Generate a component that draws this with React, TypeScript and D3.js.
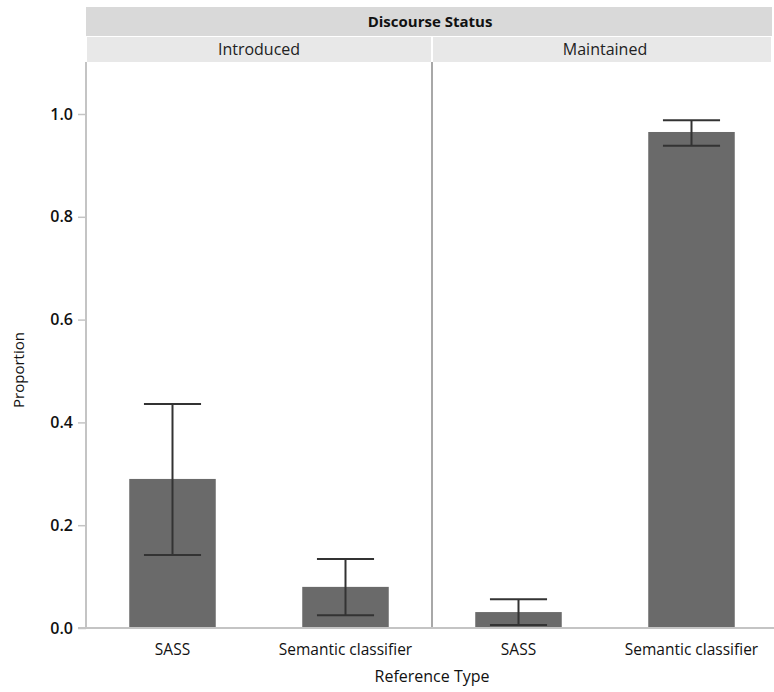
import React, { useEffect, useRef } from 'react';
import * as d3 from 'd3';

const panels = ['Introduced', 'Maintained'];
const categories = ['SASS', 'Semantic classifier'];
// proportion per panel, in category order
const introducedValues = [0.29, 0.08];
const introducedLow = [0.142, 0.025];
const introducedHigh = [0.436, 0.134];
const maintainedValues = [0.031, 0.965];
const maintainedLow = [0.006, 0.938];
const maintainedHigh = [0.056, 0.988];
const yTicks = [0, 0.2, 0.4, 0.6, 0.8, 1.0];

const App = () => {
  const svgRef = useRef<SVGSVGElement>(null);

  useEffect(() => {
    const W = 774;
    const H = 692;
    const margin = { top: 62, right: -4, bottom: 64, left: 86 }; // right panel runs past the edge a little
    const width = W - margin.left - margin.right;
    const font = '"Open Sans", "Noto Sans", sans-serif';

    const svg = d3.select(svgRef.current)
      .attr('width', W)
      .attr('height', H)
      .style('position', 'absolute')
      .style('left', '0px')
      .style('top', '0px')
      .style('font-family', font);
    svg.selectAll('*').remove();

    const panelData = [
      { name: panels[0], values: introducedValues, low: introducedLow, high: introducedHigh },
      { name: panels[1], values: maintainedValues, low: maintainedLow, high: maintainedHigh }
    ];

    const px = d3.scaleBand()
      .domain(panels)
      .range([margin.left, margin.left + width]);

    const y = d3.scaleLinear()
      .domain([0, 1.0])
      .range([628, 114]);

    const stripEnd = W - 2;

    // strips
    svg.append('rect')
      .attr('x', margin.left).attr('y', 7)
      .attr('width', stripEnd - margin.left).attr('height', 29)
      .attr('fill', '#d9d9d9');
    svg.append('text')
      .attr('x', 430).attr('y', 27)
      .attr('text-anchor', 'middle')
      .attr('font-size', 15).attr('font-weight', 'bold')
      .attr('fill', '#111')
      .text('Discourse Status');

    panelData.forEach(p => {
      const x0 = px(p.name)!;
      const x1 = Math.min(x0 + px.bandwidth(), stripEnd);
      svg.append('rect')
        .attr('x', x0 + 1).attr('y', 37)
        .attr('width', x1 - x0 - 2).attr('height', 25)
        .attr('fill', '#e8e8e8');
      svg.append('text')
        .attr('x', x0 + px.bandwidth() / 2).attr('y', 55)
        .attr('text-anchor', 'middle')
        .attr('font-size', 16).attr('fill', '#222')
        .text(p.name);
    });

    const y0 = y(0);

    panelData.forEach(p => {
      const x = d3.scaleBand()
        .domain(categories)
        .range([px(p.name)!, px(p.name)! + px.bandwidth()])
        .paddingInner(0.5)
        .paddingOuter(0.25);
      const g = svg.append('g');
      categories.forEach((c, i) => {
        g.append('rect')
          .attr('x', x(c)!)
          .attr('y', y(p.values[i]))
          .attr('width', x.bandwidth())
          .attr('height', y0 - y(p.values[i]))
          .attr('fill', '#6a6a6a');
        const cx = x(c)! + x.bandwidth() / 2;
        const cap = x.bandwidth() * 0.33;
        g.append('line')
          .attr('x1', cx).attr('x2', cx)
          .attr('y1', y(p.high[i])).attr('y2', y(p.low[i]))
          .attr('stroke', '#333').attr('stroke-width', 2);
        [p.high[i], p.low[i]].forEach(v => {
          g.append('line')
            .attr('x1', cx - cap).attr('x2', cx + cap)
            .attr('y1', y(v)).attr('y2', y(v))
            .attr('stroke', '#333').attr('stroke-width', 2);
        });
        g.append('text')
          .attr('x', cx).attr('y', y0 + 27)
          .attr('text-anchor', 'middle')
          .attr('font-size', 15.5).attr('fill', '#111')
          .text(c);
      });
    });

    // panel divider
    svg.append('line')
      .attr('x1', px(panels[1])).attr('x2', px(panels[1]))
      .attr('y1', margin.top).attr('y2', y0)
      .attr('stroke', '#a8a8a8').attr('stroke-width', 2);

    // y axis
    const yAxis = svg.append('g')
      .attr('transform', `translate(${margin.left},0)`)
      .call(d3.axisLeft(y).tickValues(yTicks).tickFormat(d3.format('.1f')).tickSize(8));
    yAxis.select('.domain').remove();
    yAxis.append('line')
      .attr('x1', 0).attr('x2', 0)
      .attr('y1', margin.top).attr('y2', y0)
      .attr('stroke', '#c4c4c4').attr('stroke-width', 2);
    yAxis.selectAll('.tick line').attr('stroke', '#c4c4c4').attr('stroke-width', 1.5);
    yAxis.selectAll('.tick text')
      .attr('font-size', 16).attr('font-weight', 600).attr('font-family', font)
      .attr('fill', '#111').attr('x', -13);

    // x axis line
    svg.append('line')
      .attr('x1', margin.left - 8).attr('x2', W)
      .attr('y1', y0).attr('y2', y0)
      .attr('stroke', '#c4c4c4').attr('stroke-width', 2);

    // titles
    svg.append('text')
      .attr('transform', `translate(24,${370}) rotate(-90)`)
      .attr('text-anchor', 'middle')
      .attr('font-size', 15).attr('fill', '#111')
      .text('Proportion');
    svg.append('text')
      .attr('x', 432).attr('y', 682)
      .attr('text-anchor', 'middle')
      .attr('font-size', 16).attr('fill', '#111')
      .text('Reference Type');
  }, []);

  return <svg ref={svgRef}></svg>;
};

export default App;
